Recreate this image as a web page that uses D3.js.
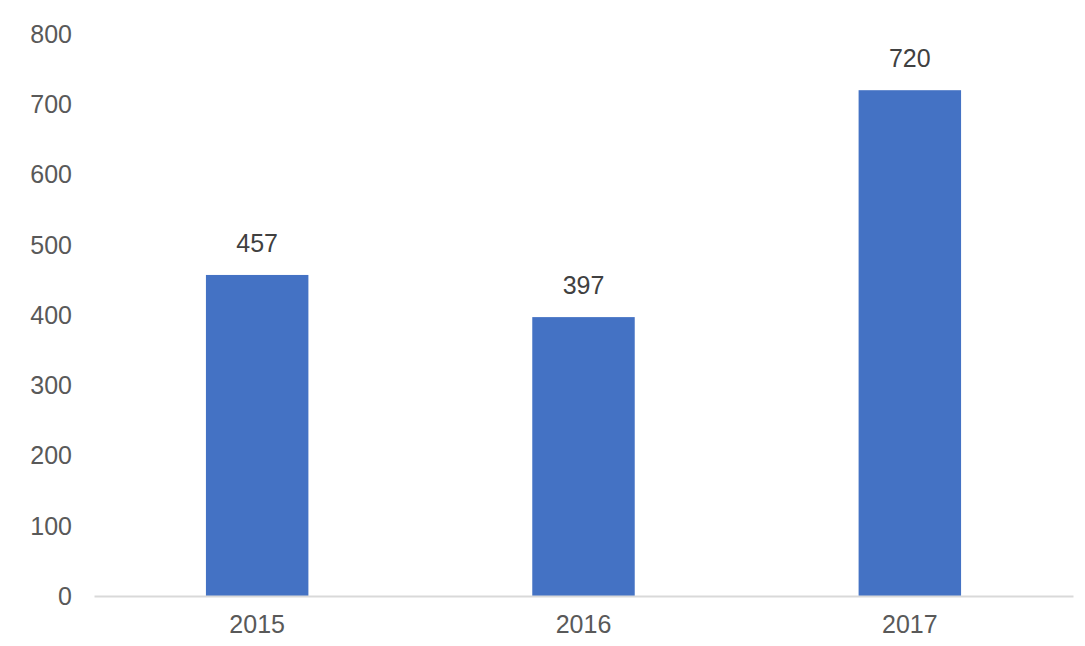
<!DOCTYPE html>
<html><head><meta charset="utf-8">
<script src="https://cdn.jsdelivr.net/npm/d3@7"></script>
<style>html,body{margin:0;padding:0;background:#fff;}</style>
</head><body>
<svg id="chart" width="1085" height="646"></svg>
<script>
const categories = ["2015", "2016", "2017"];
const values = [457, 397, 720];
const yTicks = [0, 100, 200, 300, 400, 500, 600, 700, 800];

const svg = d3.select("#chart");
const font = "'Liberation Sans', Arial, sans-serif";
const x = d3.scaleBand().domain(categories).range([94, 1073]).paddingInner(0.686).paddingOuter(0.343);
const y = d3.scaleLinear().domain([0, 800]).range([596, 34]);

// y tick labels
svg.append("g").selectAll("text").data(yTicks).join("text")
  .attr("x", 72).attr("y", d => y(d)).attr("dy", "0.35em")
  .attr("text-anchor", "end")
  .style("font-family", font).style("font-size", "25px").attr("fill", "#595959")
  .text(d => d);

// bars
svg.append("g").selectAll("rect").data(values).join("rect")
  .attr("x", (d, i) => x(categories[i])).attr("width", x.bandwidth())
  .attr("y", d => y(d)).attr("height", d => y(0) - y(d))
  .attr("fill", "#4472C4");

// axis line
const xAxis = svg.append("g").attr("transform", `translate(0,${y(0)})`)
  .call(d3.axisBottom(x).tickSize(0).tickPadding(19));
xAxis.select(".domain").attr("stroke", "#D9D9D9").attr("stroke-width", 2);
xAxis.selectAll("text").style("font-family", font).style("font-size", "25px").attr("fill", "#595959");

// data labels
svg.append("g").selectAll("text").data(values).join("text")
  .attr("x", (d, i) => x(categories[i]) + x.bandwidth() / 2)
  .attr("y", d => y(d) - 23)
  .attr("text-anchor", "middle")
  .style("font-family", font).style("font-size", "25px").attr("fill", "#404040")
  .text(d => d);
</script>
</body></html>
